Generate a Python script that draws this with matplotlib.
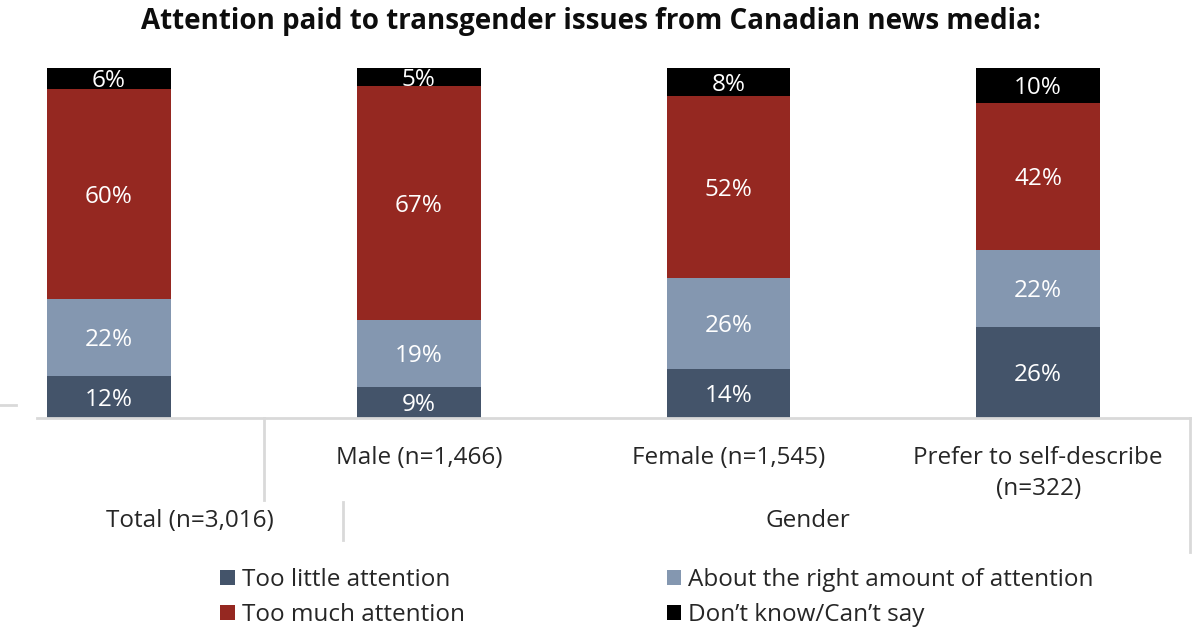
import numpy as np
import matplotlib.pyplot as plt
from matplotlib.lines import Line2D
from matplotlib.patches import Patch

plt.rcParams['font.family'] = ['Open Sans', 'DejaVu Sans']

groups = ['Total (n=3,016)', 'Male (n=1,466)', 'Female (n=1,545)', 'Prefer to self-describe\n(n=322)']
series = ['Too little attention', 'About the right amount of attention',
          'Too much attention', "Don\u2019t know/Can\u2019t say"]
too_little = [12, 9, 14, 26]
about_right = [22, 19, 26, 22]
too_much = [60, 67, 52, 42]
dont_know = [6, 5, 8, 10]
colors = ['#44546A', '#8497B0', '#952821', '#000000']

fig = plt.figure(figsize=(12, 6.3), dpi=100)
W, H = 1200, 630


def fx(px):
    return px / W


def fy(py):
    return 1 - py / H


ax = fig.add_axes([fx(37), fy(418), fx(1190) - fx(37), fy(68) - fy(418)])

x = np.arange(len(groups))
width = 0.40
bottom = np.zeros(len(groups))
for vals, col in zip([too_little, about_right, too_much, dont_know], colors):
    vals = np.array(vals)
    ax.bar(x, vals, width, bottom=bottom, color=col, edgecolor='none')
    for xi, b, v in zip(x, bottom, vals):
        ax.text(xi, b + v / 2 - 0.8, f'{v}%', ha='center', va='center',
                color='white', fontsize=17.5)
    bottom += vals

ax.set_xlim(-0.2325, 3.49)
ax.set_ylim(0, 100)
ax.axis('off')

grey = '#D9D9D9'
# baseline and category separators
fig.lines.append(Line2D([fx(37), fx(1190)], [fy(418), fy(418)], color=grey, lw=2, transform=fig.transFigure))
fig.lines.append(Line2D([fx(264), fx(264)], [fy(418), fy(500)], color=grey, lw=2, transform=fig.transFigure))
fig.lines.append(Line2D([fx(343), fx(343)], [fy(502), fy(540)], color=grey, lw=2, transform=fig.transFigure))
fig.lines.append(Line2D([fx(1190), fx(1190)], [fy(418), fy(552)], color=grey, lw=2, transform=fig.transFigure))
fig.lines.append(Line2D([fx(0), fx(16)], [fy(405), fy(405)], color=grey, lw=2, transform=fig.transFigure))

# category labels
for xi, lab in zip(x[1:], groups[1:]):
    ax.text(xi, -8.0, lab, ha='center', va='top', fontsize=17.5,
            color='#262626', linespacing=1.4, transform=ax.transData)
fig.text(fx(190), fy(521), groups[0], ha='center', va='center', fontsize=17.5, color='#262626')
fig.text(fx(808), fy(521), 'Gender', ha='center', va='center', fontsize=17.5, color='#262626')

fig.text(fx(591), fy(21), 'Attention paid to transgender issues from Canadian news media:',
         ha='center', va='center', fontsize=20, fontweight='bold', color='#0D0D0D')

handles = [Patch(facecolor=c, edgecolor='none') for c in colors]
order = [0, 2, 1, 3]
leg = fig.legend([handles[i] for i in order], [series[i] for i in order],
                 ncol=2, loc='upper left', bbox_to_anchor=(fx(220), fy(568)),
                 frameon=False, fontsize=17.5, handlelength=0.6, handleheight=0.6,
                 handletextpad=0.3, columnspacing=8.3, labelspacing=0.45,
                 borderaxespad=0, borderpad=0)
for t in leg.get_texts():
    t.set_color('#262626')

fig.savefig('out.png', dpi=100)
